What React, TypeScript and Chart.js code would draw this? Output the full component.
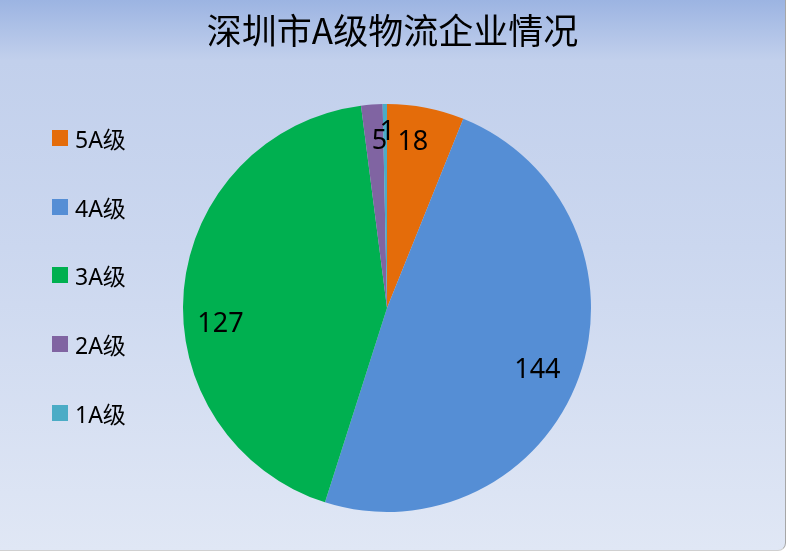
import React, { useEffect, useRef } from "react";
import { Chart, registerables } from "chart.js";

Chart.register(...registerables);

const titleText = "深圳市A级物流企业情况";
const categories = ["5A级", "4A级", "3A级", "2A级", "1A级"];
const counts = [18, 144, 127, 5, 1];
const colors = ["#e46c0a", "#558ed5", "#00b050", "#8064a2", "#4bacc6"];

const FONT = "'Noto Sans', 'Noto Sans CJK SC', sans-serif";

// small per-slice label nudges (px) to mimic the original "best fit" placement
const labelNudge: [number, number][] = [
  [-6, -1],
  [-7, 6],
  [0, 31],
  [5, 0],
  [2, -8],
];

const valueLabels = {
  id: "valueLabels",
  afterDatasetsDraw(chart: any) {
    const ctx = chart.ctx;
    const meta = chart.getDatasetMeta(0);
    ctx.save();
    ctx.font = `27px ${FONT}`;
    ctx.fillStyle = "#000";
    ctx.textAlign = "center";
    ctx.textBaseline = "middle";
    meta.data.forEach((arc: any, i: number) => {
      const { x, y, startAngle, endAngle, outerRadius } = arc.getProps(
        ["x", "y", "startAngle", "endAngle", "outerRadius"],
        true
      );
      const mid = (startAngle + endAngle) / 2;
      const r = outerRadius * 0.82;
      const [dx, dy] = labelNudge[i];
      ctx.fillText(String(counts[i]), x + Math.cos(mid) * r + dx, y + Math.sin(mid) * r + dy);
    });
    ctx.restore();
  },
};

export default function App() {
  const ref = useRef<HTMLCanvasElement | null>(null);
  useEffect(() => {
    document.body.style.margin = "0";
    const chart = new Chart(ref.current as HTMLCanvasElement, {
      type: "pie",
      data: {
        labels: categories,
        datasets: [
          {
            data: counts,
            backgroundColor: colors,
            borderWidth: 0,
          },
        ],
      },
      options: {
        animation: false,
        responsive: false,
        maintainAspectRatio: false,
        layout: { padding: { left: 183, right: 198, top: 104, bottom: 39 } },
        plugins: {
          legend: { display: false },
          title: { display: false },
          tooltip: { enabled: false },
        },
      },
      plugins: [valueLabels],
    });
    return () => chart.destroy();
  }, []);

  return (
    <div
      style={{
        position: "fixed",
        left: 0,
        top: 0,
        width: 785,
        height: 550,
        background:
          "linear-gradient(to bottom, #9cb4e2 0%, #c2d0ec 11%, #cbd7ef 45%, #e0e7f5 100%)",
        borderRight: "1px solid #a6a6a6",
        borderBottom: "1px solid #d0d0d0",
        borderRadius: "0 0 8px 0",
        overflow: "hidden",
      }}
    >
      <canvas
        ref={ref}
        width={789}
        height={551}
        style={{ position: "absolute", left: 0, top: 0, width: 789, height: 551 }}
      />
      <div
        style={{
          position: "absolute",
          left: 0,
          width: 785,
          top: 6,
          textAlign: "center",
          fontFamily: "'Noto Sans CJK SC', sans-serif",
          fontSize: 35,
          color: "#000",
          lineHeight: "46px",
        }}
      >
        {titleText}
      </div>
      {categories.map((c, i) => (
        <div
          key={c}
          style={{
            position: "absolute",
            left: 52,
            top: 138 + i * 68.7 - 16,
            height: 32,
            display: "flex",
            alignItems: "center",
            fontFamily: FONT,
            fontSize: 23,
            color: "#000",
          }}
        >
          <span
            style={{
              display: "inline-block",
              width: 16,
              height: 16,
              background: colors[i],
              marginRight: 7,
            }}
          />
          {c}
        </div>
      ))}
    </div>
  );
}
